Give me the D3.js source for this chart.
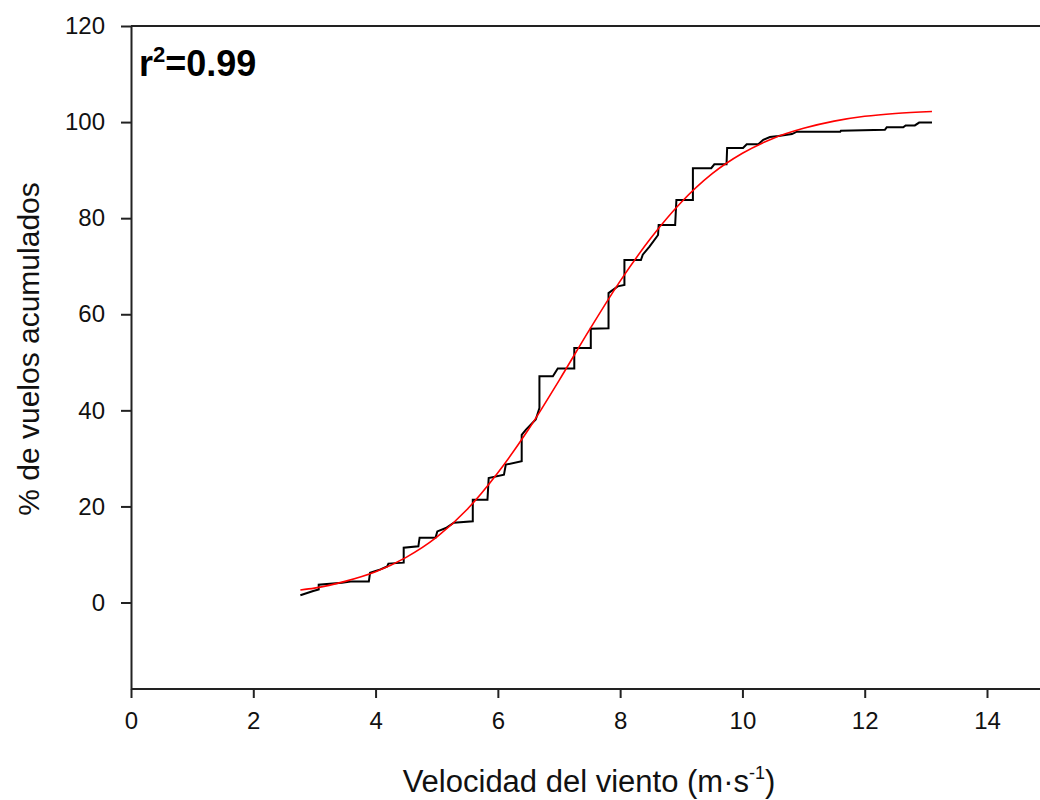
<!DOCTYPE html>
<html>
<head>
<meta charset="utf-8">
<script src="https://cdn.jsdelivr.net/npm/d3@7"></script>
<style>
	body { margin: 0; background: #fff; }
	svg { display: block; font-family: "Liberation Sans", Arial, sans-serif; }
</style>
</head>
<body>
<div id="chart"></div>
<script>
// observed cumulative flights (step trace), wind speed in m/s
const obsSpeed = [2.77, 2.98, 3.07, 3.07, 3.45, 3.62, 3.89, 3.91, 4.08, 4.19, 4.21, 4.46, 4.46, 4.70, 4.72, 4.98, 5.01, 5.15, 5.28, 5.59, 5.59, 5.83, 5.85, 6.10, 6.13, 6.39, 6.39, 6.46, 6.62, 6.68, 6.68, 6.90, 6.98, 7.25, 7.25, 7.52, 7.52, 7.81, 7.81, 7.96, 8.07, 8.07, 8.34, 8.37, 8.48, 8.62, 8.63, 8.90, 8.92, 9.19, 9.19, 9.49, 9.54, 9.74, 9.75, 10.01, 10.07, 10.26, 10.34, 10.45, 10.59, 10.81, 10.89, 11.60, 11.61, 12.33, 12.36, 12.63, 12.67, 12.82, 12.89, 13.10];
const obsPct = [1.5, 2.4, 2.7, 3.7, 4.1, 4.4, 4.4, 6.2, 6.9, 7.5, 8.1, 8.3, 11.4, 11.7, 13.5, 13.5, 14.8, 15.5, 16.6, 16.9, 21.4, 21.4, 25.9, 26.6, 28.7, 29.4, 34.9, 36.0, 38.1, 40.5, 47.1, 47.1, 48.7, 48.7, 53.0, 53.0, 57.0, 57.1, 64.4, 65.8, 66.1, 71.3, 71.3, 72.4, 74.1, 76.5, 78.6, 78.6, 83.8, 83.8, 90.4, 90.4, 91.2, 91.2, 94.6, 94.6, 95.4, 95.4, 96.3, 96.9, 97.1, 97.5, 98.0, 98.0, 98.2, 98.4, 98.9, 98.9, 99.3, 99.3, 99.9, 99.9];

// fitted sigmoid (red)
const fitSpeed = [2.77, 3.0, 3.5, 4.0, 4.5, 5.0, 5.5, 6.0, 6.5, 7.0, 7.5, 8.0, 8.5, 9.0, 9.5, 10.0, 10.5, 11.0, 11.5, 12.0, 12.5, 13.1];
const fitPct = [2.6, 3.0, 4.4, 6.4, 9.4, 13.6, 19.4, 27.0, 36.0, 46.2, 56.8, 66.9, 75.8, 83.3, 89.2, 93.5, 96.6, 98.7, 100.2, 101.2, 101.8, 102.2];

const xTicks = [0, 2, 4, 6, 8, 10, 12, 14];
const yTicks = [0, 20, 40, 60, 80, 100, 120];

const width = 1040;
const height = 800;
const margin = { left: 131, top: 26, bottom: 689 };

const svg = d3
	.select("#chart")
	.append("svg")
	.attr("width", width)
	.attr("height", height);

const x = d3.scaleLinear().domain([0, 14]).range([margin.left, 987]);
const y = d3.scaleLinear().domain([-18, 120]).range([margin.bottom, margin.top]);

// frame (top line runs off the right edge like the original)
svg.append("line")
	.attr("x1", margin.left)
	.attr("x2", width + 5)
	.attr("y1", margin.top)
	.attr("y2", margin.top)
	.attr("stroke", "#222")
	.attr("stroke-width", 2);

const xAxis = d3.axisBottom(x).tickValues(xTicks).tickSize(9).tickPadding(14).tickSizeOuter(0);
const yAxis = d3.axisLeft(y).tickValues(yTicks).tickSize(10).tickPadding(16).tickSizeOuter(0);

const gx = svg.append("g")
	.attr("transform", `translate(0, ${margin.bottom})`)
	.call(xAxis);
gx.select(".domain").attr("d", `M${margin.left},0H${width + 5}`);

const gy = svg.append("g")
	.attr("transform", `translate(${margin.left}, 0)`)
	.call(yAxis);

[gx, gy].forEach((g) => {
	g.select(".domain").attr("stroke", "#222").attr("stroke-width", 2);
	g.selectAll(".tick line").attr("stroke", "#222").attr("stroke-width", 2);
	g.selectAll(".tick text")
		.attr("fill", "#111")
		.style("font-size", "24px")
		.style("font-family", "'Liberation Sans', Arial, sans-serif");
});

// curves
const lineObs = d3.line()
	.x((d, i) => x(obsSpeed[i]))
	.y((d, i) => y(obsPct[i]));

const lineFit = d3.line()
	.x((d, i) => x(fitSpeed[i]))
	.y((d, i) => y(fitPct[i]))
	.curve(d3.curveMonotoneX);

svg.append("path")
	.datum(obsSpeed)
	.attr("d", lineObs)
	.attr("fill", "none")
	.attr("stroke", "#000")
	.attr("stroke-width", 2);

svg.append("path")
	.datum(fitSpeed)
	.attr("d", lineFit)
	.attr("fill", "none")
	.attr("stroke", "#ff0000")
	.attr("stroke-width", 1.6);

// r2 label
const r2 = svg.append("text")
	.attr("x", 139)
	.attr("y", 76)
	.attr("fill", "#000")
	.style("font-size", "36px")
	.style("font-weight", "bold");
r2.append("tspan").text("r");
r2.append("tspan").attr("dy", -14).style("font-size", "22px").text("2");
r2.append("tspan").attr("dy", 14).text("=0.99");

// axis titles
const xt = svg.append("text")
	.attr("x", 589)
	.attr("y", 792)
	.attr("text-anchor", "middle")
	.attr("fill", "#111")
	.style("font-size", "31px");
xt.append("tspan").text("Velocidad del viento (m·s");
xt.append("tspan").attr("dy", -13).style("font-size", "18px").text("-1");
xt.append("tspan").attr("dy", 13).text(")");

svg.append("text")
	.attr("transform", "translate(39, 349) rotate(-90)")
	.attr("text-anchor", "middle")
	.attr("fill", "#111")
	.style("font-size", "30px")
	.text("% de vuelos acumulados");
</script>
</body>
</html>
